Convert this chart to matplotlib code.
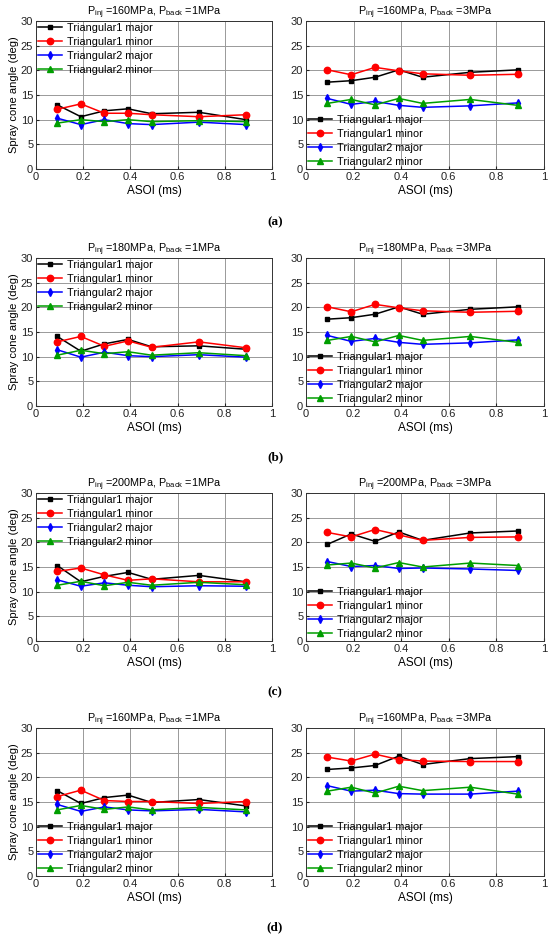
import matplotlib
matplotlib.use('Agg')
import matplotlib.pyplot as plt

plt.rcParams['font.family'] = ['Liberation Sans', 'DejaVu Sans']
plt.rcParams['mathtext.fontset'] = 'custom'
plt.rcParams['mathtext.rm'] = 'Liberation Sans'
plt.rcParams['mathtext.it'] = 'Liberation Sans'

asoi = [0.09, 0.19, 0.29, 0.39, 0.49, 0.69, 0.89]
series_names = ['Triangular1 major', 'Triangular1 minor', 'Triangular2 major', 'Triangular2 minor']

# (a) 160 MPa
a1_t1_major = [13.0, 10.6, 11.8, 12.2, 11.2, 11.5, 10.0]
a1_t1_minor = [12.1, 13.2, 11.3, 11.3, 11.0, 10.6, 11.0]
a1_t2_major = [10.3, 9.0, 10.0, 9.2, 9.0, 9.5, 9.0]
a1_t2_minor = [9.3, 10.0, 9.6, 10.0, 9.6, 9.8, 9.6]

a3_t1_major = [17.6, 17.9, 18.6, 20.1, 18.6, 19.6, 20.1]
a3_t1_minor = [20.1, 19.1, 20.6, 19.9, 19.3, 19.0, 19.2]
a3_t2_major = [14.3, 13.1, 13.7, 12.9, 12.5, 12.8, 13.4]
a3_t2_minor = [13.3, 14.1, 13.0, 14.3, 13.3, 14.1, 12.9]

# (b) 180 MPa
b1_t1_major = [14.1, 11.1, 12.6, 13.5, 12.0, 12.2, 11.5]
b1_t1_minor = [13.0, 14.1, 12.1, 13.2, 11.9, 13.0, 11.8]
b1_t2_major = [11.4, 9.9, 10.9, 10.2, 10.0, 10.4, 9.9]
b1_t2_minor = [10.3, 11.3, 10.6, 11.0, 10.3, 10.8, 10.2]

b3_t1_major = [17.6, 17.9, 18.6, 20.1, 18.6, 19.6, 20.1]
b3_t1_minor = [20.1, 19.1, 20.6, 19.9, 19.3, 19.0, 19.2]
b3_t2_major = [14.3, 13.1, 13.7, 12.9, 12.5, 12.8, 13.4]
b3_t2_minor = [13.3, 14.1, 13.0, 14.3, 13.3, 14.1, 12.9]

# (c) 200 MPa
c1_t1_major = [15.3, 12.0, 13.1, 13.9, 12.5, 13.3, 12.0]
c1_t1_minor = [14.1, 14.8, 13.4, 12.3, 12.6, 12.0, 12.0]
c1_t2_major = [12.4, 11.1, 11.8, 11.3, 11.0, 11.2, 11.1]
c1_t2_minor = [11.3, 12.1, 11.2, 11.9, 11.3, 11.9, 11.4]

c3_t1_major = [19.6, 21.7, 20.2, 22.1, 20.4, 21.9, 22.3]
c3_t1_minor = [22.0, 21.1, 22.6, 21.5, 20.4, 21.0, 21.1]
c3_t2_major = [16.1, 15.1, 15.3, 14.7, 14.8, 14.6, 14.3]
c3_t2_minor = [15.4, 15.8, 14.8, 15.9, 15.0, 15.8, 15.3]

# (d) 160 MPa
d1_t1_major = [17.3, 14.7, 15.9, 16.4, 14.9, 15.5, 14.2]
d1_t1_minor = [16.1, 17.4, 15.3, 15.1, 15.1, 14.7, 15.1]
d1_t2_major = [14.5, 13.1, 14.0, 13.4, 13.2, 13.5, 13.0]
d1_t2_minor = [13.4, 14.3, 13.5, 14.0, 13.4, 13.9, 13.4]

d3_t1_major = [21.6, 21.9, 22.4, 24.3, 22.6, 23.8, 24.2]
d3_t1_minor = [24.1, 23.3, 24.7, 23.6, 23.3, 23.2, 23.2]
d3_t2_major = [18.3, 17.2, 17.4, 16.7, 16.6, 16.6, 17.2]
d3_t2_minor = [17.2, 18.0, 16.8, 18.2, 17.3, 18.0, 16.6]

titles = [
    (r'P$_{\mathrm{inj}}$ =160MPa, P$_{\mathrm{back}}$ =1MPa', r'P$_{\mathrm{inj}}$ =160MPa, P$_{\mathrm{back}}$ =3MPa'),
    (r'P$_{\mathrm{inj}}$ =180MPa, P$_{\mathrm{back}}$ =1MPa', r'P$_{\mathrm{inj}}$ =180MPa, P$_{\mathrm{back}}$ =3MPa'),
    (r'P$_{\mathrm{inj}}$ =200MPa, P$_{\mathrm{back}}$ =1MPa', r'P$_{\mathrm{inj}}$ =200MPa, P$_{\mathrm{back}}$ =3MPa'),
    (r'P$_{\mathrm{inj}}$ =160MPa, P$_{\mathrm{back}}$ =1MPa', r'P$_{\mathrm{inj}}$ =160MPa, P$_{\mathrm{back}}$ =3MPa'),
]
panel_labels = ['(a)', '(b)', '(c)', '(d)']

panels = [
    ([a1_t1_major, a1_t1_minor, a1_t2_major, a1_t2_minor], [a3_t1_major, a3_t1_minor, a3_t2_major, a3_t2_minor]),
    ([b1_t1_major, b1_t1_minor, b1_t2_major, b1_t2_minor], [b3_t1_major, b3_t1_minor, b3_t2_major, b3_t2_minor]),
    ([c1_t1_major, c1_t1_minor, c1_t2_major, c1_t2_minor], [c3_t1_major, c3_t1_minor, c3_t2_major, c3_t2_minor]),
    ([d1_t1_major, d1_t1_minor, d1_t2_major, d1_t2_minor], [d3_t1_major, d3_t1_minor, d3_t2_major, d3_t2_minor]),
]
left_legend_loc = ['upper left', 'upper left', 'upper left', 'lower left']

styles = [
    dict(color='black', marker='s', markersize=3.4),
    dict(color='red', marker='o', markersize=4.6),
    dict(color='blue', marker='d', markersize=3.8),
    dict(color='#009e00', marker='^', markersize=4.3),
]

W, H = 550, 940
fig = plt.figure(figsize=(5.5, 9.4), dpi=100)
fig.set_facecolor('white')

col_x = [(36, 272), (306, 544)]
row_y = [(21, 169), (258, 406), (493, 641), (728, 876)]
label_y = [222, 457, 692, 927]

for r in range(4):
    for c in range(2):
        x0, x1 = col_x[c]
        y0, y1 = row_y[r]
        ax = fig.add_axes([x0 / W, 1 - y1 / H, (x1 - x0) / W, (y1 - y0) / H])
        for vals, name, st in zip(panels[r][c], series_names, styles):
            ax.plot(asoi, vals, linewidth=1.1, label=name, **st)
        ax.set_xlim(0, 1)
        ax.set_ylim(0, 30)
        ax.set_xticks([0, 0.2, 0.4, 0.6, 0.8, 1])
        ax.set_xticklabels(['0', '0.2', '0.4', '0.6', '0.8', '1'])
        ax.set_yticks([0, 5, 10, 15, 20, 25, 30])
        ax.grid(True, color='#999999', linewidth=0.7)
        ax.tick_params(direction='in', length=2.5, labelsize=8, pad=2, colors='#222222')
        for sp in ax.spines.values():
            sp.set_linewidth(0.7)
            sp.set_color('#333333')
        ax.set_xlabel('ASOI (ms)', fontsize=8.5, labelpad=2)
        if c == 0:
            ax.set_ylabel('Spray cone angle (deg)', fontsize=8, labelpad=1)
        ax.set_title(titles[r][c], fontsize=7.8, pad=3)
        loc = left_legend_loc[r] if c == 0 else 'lower left'
        ax.legend(loc=loc, frameon=False, fontsize=7.8, borderaxespad=0.1,
                  borderpad=0.1, labelspacing=0.36, handlelength=2.2,
                  handletextpad=0.5)
    fig.text(0.5, 1 - label_y[r] / H, panel_labels[r], ha='center', va='center',
             fontsize=9.5, fontweight='bold', family='Liberation Serif')

fig.savefig('out.png', dpi=100)
